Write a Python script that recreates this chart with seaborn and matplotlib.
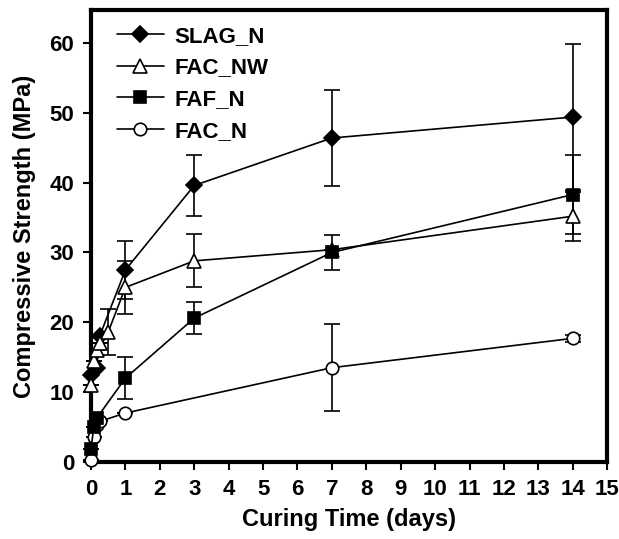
import numpy as np
import pandas as pd
import matplotlib
matplotlib.use("Agg")
import matplotlib.pyplot as plt
import seaborn as sns

sns.set_style("ticks")
plt.rcParams["font.family"] = ["Liberation Sans", "DejaVu Sans"]
plt.rcParams["font.weight"] = "bold"
plt.rcParams["text.color"] = "black"
plt.rcParams["axes.labelcolor"] = "black"
plt.rcParams["xtick.color"] = "black"
plt.rcParams["ytick.color"] = "black"

# curing times (days) and strengths (MPa)
slag_t = [0, 0.17, 0.25, 1, 3, 7, 14]
slag_y = [12.5, 13.5, 18, 27.5, 39.6, 46.4, 49.4]
slag_e = [0, 0, 0, 4.2, 4.4, 6.9, 10.5]

nw_t = [0, 0.1, 0.17, 0.25, 0.5, 1, 3, 7, 14]
nw_y = [11, 14.5, 16, 17, 18.6, 25, 28.8, 30.4, 35.2]
nw_e = [0, 0, 0, 0, 3.3, 3.8, 3.8, 0, 3.5]

faf_t = [0, 0.08, 0.17, 1, 3, 7, 14]
faf_y = [1.8, 5, 6.3, 12, 20.6, 30, 38.3]
faf_e = [0, 0, 0, 3, 2.3, 2.5, 5.7]

facn_t = [0, 0.08, 0.17, 0.25, 1, 7, 14]
facn_y = [0.3, 3.6, 5.3, 5.8, 7, 13.5, 17.7]
facn_e = [0, 0, 0, 0, 0, 6.2, 0.5]

series = [
    ("SLAG_N", slag_t, slag_y, slag_e, "D", "black", 8, 3),
    ("FAC_NW", nw_t, nw_y, nw_e, "^", "white", 10, 3),
    ("FAF_N", faf_t, faf_y, faf_e, "s", "black", 9, 4),
    ("FAC_N", facn_t, facn_y, facn_e, "o", "white", 9, 3),
]

fig = plt.figure(figsize=(6.19, 5.39), dpi=100)
ax = fig.add_axes([0.147, 0.143, 0.834, 0.838])

for name, t, y, e, m, fc, ms, z in series:
    df = pd.DataFrame({"t": t, "y": y})
    ax.errorbar(t, y, yerr=e, fmt="none", ecolor="black", elinewidth=1.2,
                capsize=6, capthick=1.2, zorder=2, clip_on=False)
    sns.lineplot(data=df, x="t", y="y", ax=ax, color="black", lw=1.2,
                 marker=m, markersize=ms, markerfacecolor=fc,
                 markeredgecolor="black", markeredgewidth=1.2,
                 label=name, clip_on=False, zorder=z)

ax.set_xlim(0, 15)
ax.set_ylim(0, 64.7)
ax.set_xticks(range(0, 16))
ax.set_yticks(range(0, 61, 10))
ax.tick_params(direction="out", length=6, width=1.5, labelsize=16, pad=6)
for lab in ax.get_xticklabels() + ax.get_yticklabels():
    lab.set_fontweight("bold")
for s in ax.spines.values():
    s.set_linewidth(3)
    s.set_color("black")
ax.set_xlabel("Curing Time (days)", fontsize=17, fontweight="bold", labelpad=6)
ax.set_ylabel("Compressive Strength (MPa)", fontsize=17, fontweight="bold", labelpad=10)

ax.legend(loc="upper left", frameon=False, prop={"size": 16, "weight": "bold"},
          handlelength=2.1, handletextpad=0.5, labelspacing=0.48,
          borderaxespad=0.3, bbox_to_anchor=(0.02, 1.0))

fig.savefig("out.png", dpi=100)
